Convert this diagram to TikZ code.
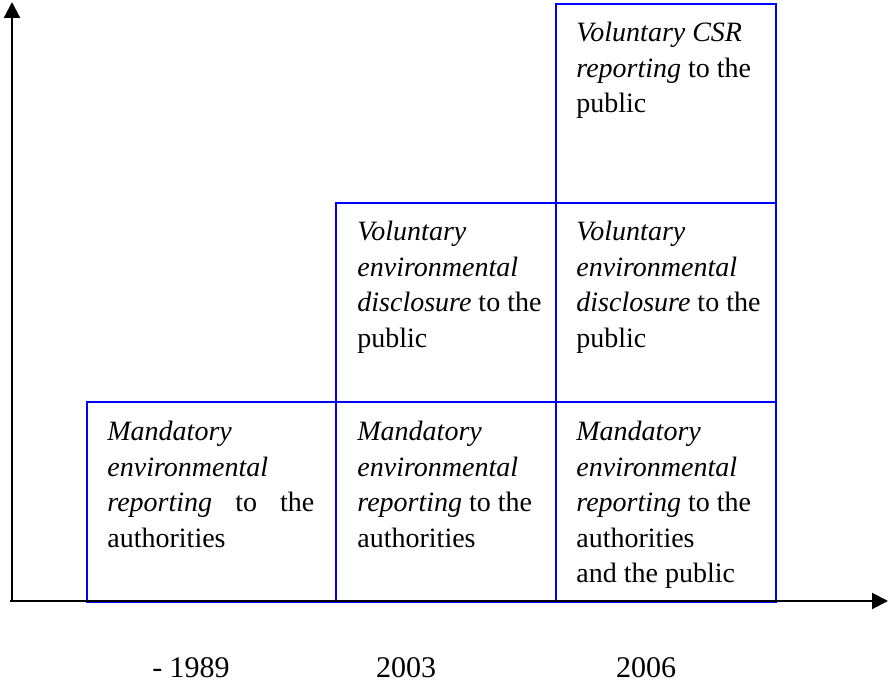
\documentclass[tikz,border=0pt]{standalone}
\usepackage{fontspec}
\setmainfont{Liberation Serif}
\usetikzlibrary{arrows.meta}
\begin{document}
\begin{tikzpicture}[x=0.5pt,y=-0.5pt,
  cell/.style={draw=blue, line width=1pt, inner sep=0pt, anchor=north west},
  wide/.style={cell, minimum width=124.5pt},
  narrow/.style={cell, minimum width=110pt},
  celltext/.style={inner sep=0pt, anchor=north west, align=left,
    font=\fontsize{14}{17.75}\selectfont},
  axis/.style={line width=1pt, -{Triangle[width=8pt,length=8pt]}},
  year/.style={font=\fontsize{15}{18}\selectfont, anchor=base}]
\useasboundingbox (0,0) rectangle (889,688);

% bottom row
\node[wide,   minimum height=100pt]  (b1) at (86,401)  {};
\node[narrow, minimum height=100pt]  (b2) at (335,401) {};
\node[narrow, minimum height=100pt]  (b3) at (555,401) {};
% middle row
\node[narrow, minimum height=99.5pt] (m2) at (335,202) {};
\node[narrow, minimum height=99.5pt] (m3) at (555,202) {};
% top row
\node[narrow, minimum height=99.5pt] (t3) at (555,3)   {};

% cell texts
\node[celltext] (b1t) at ([xshift=10.5pt,yshift=-10pt]b1.north west)
  {\textit{Mandatory}\\ \textit{environmental}\\
   \makebox[103.5pt][s]{\textit{reporting} to the}\\ authorities};
\node[celltext] (b2t) at ([xshift=11pt,yshift=-10pt]b2.north west)
  {\textit{Mandatory}\\ \textit{environmental}\\
   \textit{reporting} to the\\ authorities};
\node[celltext] (b3t) at ([xshift=10.5pt,yshift=-10pt]b3.north west)
  {\textit{Mandatory}\\ \textit{environmental}\\
   \textit{reporting} to the\\ authorities\\ and the public};
\node[celltext] (m2t) at ([xshift=11pt,yshift=-9.5pt]m2.north west)
  {\textit{Voluntary}\\ \textit{environmental}\\
   \textit{disclosure} to the\\ public};
\node[celltext] (m3t) at ([xshift=10.5pt,yshift=-9.5pt]m3.north west)
  {\textit{Voluntary}\\ \textit{environmental}\\
   \textit{disclosure} to the\\ public};
\node[celltext] (t3t) at ([xshift=10.5pt,yshift=-9.5pt]t3.north west)
  {\textit{Voluntary CSR}\\ \textit{reporting} to the\\ public};

% axes
\coordinate (origin) at (12,601);
\coordinate (xstart) at (10,601);
\coordinate (xend)   at (888,601);
\coordinate (ytop)   at (12,2);
\draw[axis] (xstart) -- (xend);
\draw[axis] (origin) -- (ytop);

% years
\node[year] (y1) at (191,678) {- 1989};
\node[year] (y2) at (406,678) {2003};
\node[year] (y3) at (646,678) {2006};
\end{tikzpicture}
\end{document}
